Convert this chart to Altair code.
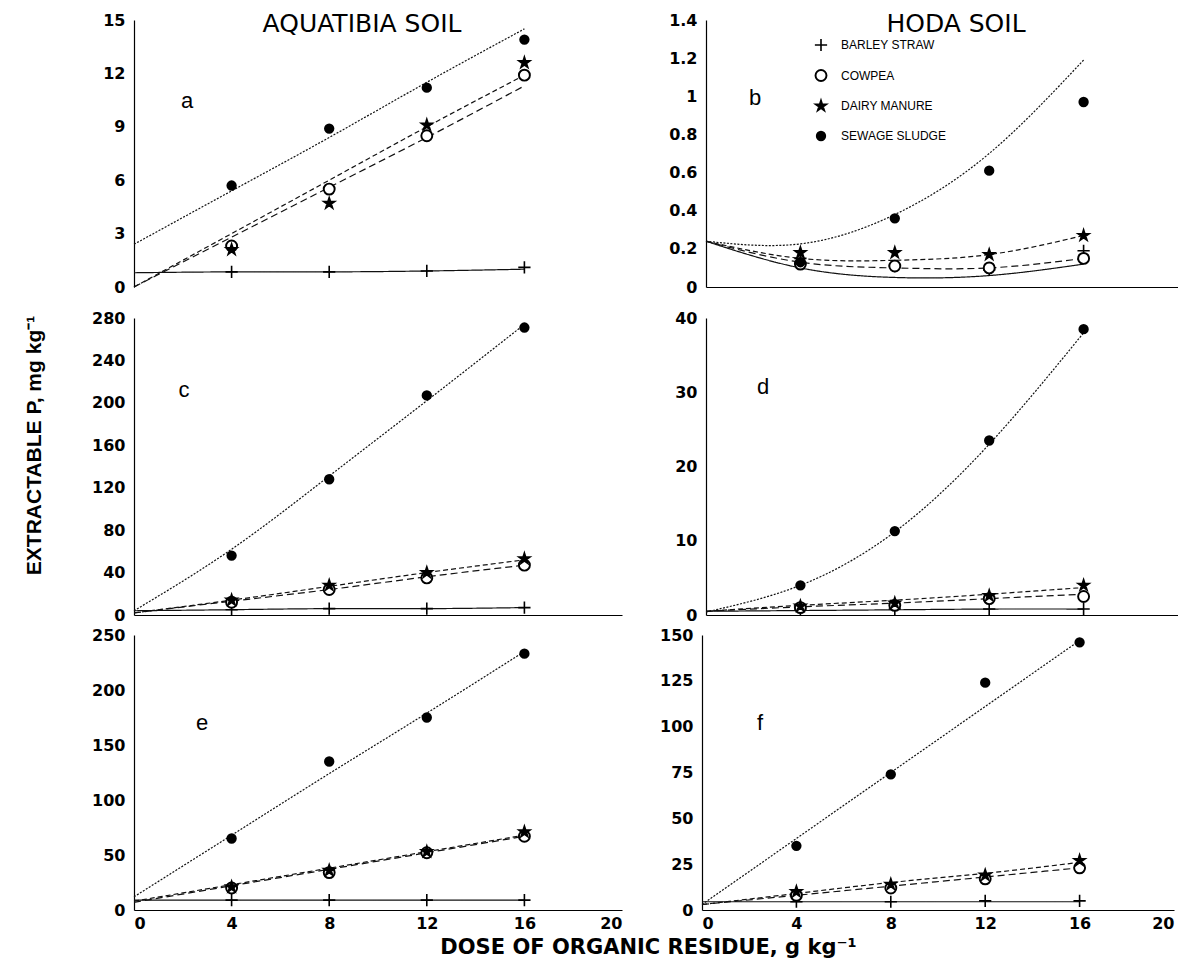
import altair as alt
import pandas as pd

SERIES = ["BARLEY STRAW", "COWPEA", "DAIRY MANURE", "SEWAGE SLUDGE"]
DOSE = [4, 8, 12, 16]
FIT_DOSE = [0, 4, 8, 12, 16]
X_TICKS = [0, 4, 8, 12, 16, 20]

# ---- panel a : Aquatibia soil
A_BARLEY = [0.85, 0.85, 0.9, 1.1]
A_COWPEA = [2.3, 5.5, 8.5, 11.9]
A_DAIRY = [2.1, 4.7, 9.1, 12.6]
A_SEWAGE = [5.7, 8.9, 11.2, 13.9]
A_FIT_BARLEY = [0.8, 0.85, 0.85, 0.9, 1.0]
A_FIT_COWPEA = [0.0, 2.8, 5.6, 8.4, 11.3]
A_FIT_DAIRY = [0.0, 3.0, 6.0, 9.0, 11.9]
A_FIT_SEWAGE = [2.4, 5.4, 8.4, 11.5, 14.5]
A_TICKS = [0, 3, 6, 9, 12, 15]

# ---- panel b : Hoda soil
B_BARLEY = [0.15, 0.11, 0.09, 0.19]
B_COWPEA = [0.12, 0.11, 0.10, 0.15]
B_DAIRY = [0.18, 0.18, 0.17, 0.27]
B_SEWAGE = [0.13, 0.36, 0.61, 0.97]
B_FIT_BARLEY = [0.24, 0.10, 0.05, 0.06, 0.12]
B_FIT_COWPEA = [0.24, 0.13, 0.10, 0.10, 0.15]
B_FIT_DAIRY = [0.24, 0.15, 0.14, 0.17, 0.27]
B_FIT_SEWAGE = [0.24, 0.226, 0.38, 0.70, 1.19]
B_TICKS = [0, 0.2, 0.4, 0.6, 0.8, 1, 1.2, 1.4]

# ---- panel c : Aquatibia soil
C_BARLEY = [5, 6, 6, 7]
C_COWPEA = [12, 24, 35, 47]
C_DAIRY = [14, 28, 40, 53]
C_SEWAGE = [56, 128, 207, 271]
C_FIT_BARLEY = [4, 5, 6, 6, 7]
C_FIT_COWPEA = [2, 13, 24, 36, 47]
C_FIT_DAIRY = [2, 14, 27, 40, 52]
C_FIT_SEWAGE = [4, 62, 131, 202, 274]
C_TICKS = [0, 40, 80, 120, 160, 200, 240, 280]

# ---- panel d : Hoda soil
D_BARLEY = [0.8, 0.8, 0.8, 0.8]
D_COWPEA = [1.0, 1.3, 2.2, 2.5]
D_DAIRY = [1.2, 1.6, 2.6, 4.0]
D_SEWAGE = [4.0, 11.3, 23.5, 38.5]
D_FIT_BARLEY = [0.5, 0.6, 0.7, 0.8, 0.8]
D_FIT_COWPEA = [0.5, 1.1, 1.6, 2.2, 2.8]
D_FIT_DAIRY = [0.5, 1.3, 2.0, 2.8, 3.7]
D_FIT_SEWAGE = [0.4, 4.0, 11.2, 23.0, 38.0]
D_TICKS = [0, 10, 20, 30, 40]

# ---- panel e : Aquatibia soil
E_BARLEY = [9, 9, 9, 9]
E_COWPEA = [20, 34, 52, 67]
E_DAIRY = [21, 36, 53, 71]
E_SEWAGE = [65, 135, 175, 233]
E_FIT_BARLEY = [9, 9, 9, 9, 9]
E_FIT_COWPEA = [7, 22, 37, 52, 67]
E_FIT_DAIRY = [8, 23, 38, 53, 68]
E_FIT_SEWAGE = [12, 68, 124, 179, 235]
E_TICKS = [0, 50, 100, 150, 200, 250]

# ---- panel f : Hoda soil
F_BARLEY = [4.5, 4.5, 5, 5]
F_COWPEA = [8, 12, 17, 23]
F_DAIRY = [10, 14, 19, 27]
F_SEWAGE = [35, 74, 124, 146]
F_FIT_BARLEY = [4.5, 4.5, 4.5, 4.5, 4.5]
F_FIT_COWPEA = [3, 8, 13, 18, 23]
F_FIT_DAIRY = [3, 9, 15, 20, 26]
F_FIT_SEWAGE = [3, 39, 75, 111, 147]
F_TICKS = [0, 25, 50, 75, 100, 125, 150]

Y_TITLE = "EXTRACTABLE P, mg kg\u207b\u00b9"
X_TITLE = "DOSE OF ORGANIC RESIDUE, g kg\u207b\u00b9"
SOIL_TITLES = {"a": "AQUATIBIA SOIL", "b": "HODA SOIL"}

PANELS = {
    "a": dict(points=[A_BARLEY, A_COWPEA, A_DAIRY, A_SEWAGE],
              fits=[A_FIT_BARLEY, A_FIT_COWPEA, A_FIT_DAIRY, A_FIT_SEWAGE], ticks=A_TICKS),
    "b": dict(points=[B_BARLEY, B_COWPEA, B_DAIRY, B_SEWAGE],
              fits=[B_FIT_BARLEY, B_FIT_COWPEA, B_FIT_DAIRY, B_FIT_SEWAGE], ticks=B_TICKS),
    "c": dict(points=[C_BARLEY, C_COWPEA, C_DAIRY, C_SEWAGE],
              fits=[C_FIT_BARLEY, C_FIT_COWPEA, C_FIT_DAIRY, C_FIT_SEWAGE], ticks=C_TICKS),
    "d": dict(points=[D_BARLEY, D_COWPEA, D_DAIRY, D_SEWAGE],
              fits=[D_FIT_BARLEY, D_FIT_COWPEA, D_FIT_DAIRY, D_FIT_SEWAGE], ticks=D_TICKS),
    "e": dict(points=[E_BARLEY, E_COWPEA, E_DAIRY, E_SEWAGE],
              fits=[E_FIT_BARLEY, E_FIT_COWPEA, E_FIT_DAIRY, E_FIT_SEWAGE], ticks=E_TICKS),
    "f": dict(points=[F_BARLEY, F_COWPEA, F_DAIRY, F_SEWAGE],
              fits=[F_FIT_BARLEY, F_FIT_COWPEA, F_FIT_DAIRY, F_FIT_SEWAGE], ticks=F_TICKS),
}

# ---- styling
TICK_FONT = "DejaVu Sans"
SANS = "Liberation Sans"
PLUS = "M-1,0L1,0M0,-1L0,1"
STAR = ("M0,-1L0.2245,-0.309L0.951,-0.309L0.363,0.118L0.588,0.809L0,0.382"
        "L-0.588,0.809L-0.363,0.118L-0.951,-0.309L-0.2245,-0.309Z")
SHAPES = [PLUS, "circle", STAR, "circle"]
FILLS = ["black", "white", "black", "black"]
STROKE_COLORS = ["black", "black", "black", "black"]
SIZES = [150, 60, 110, 135]
STROKES = [1.6, 2.6, 0.8, 0.8]
DASHES = [[1, 0], [7, 4], [5, 3], [2, 1.5]]
COL_W = [488, 472]
ROW_H = [267, 297, 275]
LETTER_POS = {"a": (53, 81), "b": (49, 78), "c": (50, 72), "d": (57, 69), "e": (68, 88), "f": (58, 88)}
TITLE_POS = {"a": (228, 12), "b": (250, 12)}


def long_df(series_vals, xs, name):
    rows = []
    for s, vals in zip(SERIES, series_vals):
        for x, v in zip(xs, vals):
            rows.append({name: s, "dose": x, "value": v})
    return pd.DataFrame(rows)


def panel(key, col, row):
    p = PANELS[key]
    bottom = row == 2
    xaxis = alt.Axis(values=X_TICKS, labels=bottom, ticks=False, grid=False, title=None,
                     domain=(key != "a"), domainColor="black", domainWidth=1.2,
                     labelFont=TICK_FONT, labelFontSize=16, labelFontWeight="bold",
                     labelColor="black", labelPadding=5)
    ykw = dict(values=p["ticks"], labelExpr="'' + datum.value", ticks=False, grid=False,
               domainColor="black", domainWidth=1.2, labelFont=TICK_FONT,
               labelFontSize=16, labelFontWeight="bold", labelColor="black",
               labelPadding=9, minExtent=44, maxExtent=44)
    if col == 0:
        ykw.update(title=Y_TITLE, titleFont=SANS, titleFontSize=21, titleFontWeight="bold",
                   titleColor="black", titlePadding=46, titleOpacity=1 if key == "c" else 0)
        if key == "c":
            ykw.update(titleY=127)
    else:
        ykw.update(title=None)
    yaxis = alt.Axis(**ykw)
    xenc = alt.X("dose:Q", scale=alt.Scale(domain=[0, 20], nice=False), axis=xaxis)
    yenc = alt.Y("value:Q", scale=alt.Scale(domain=[0, p["ticks"][-1]], nice=False), axis=yaxis)

    lines = alt.Chart(long_df(p["fits"], FIT_DOSE, "fit")).mark_line(
        color="#111111", strokeWidth=1.2, interpolate="natural"
    ).encode(
        x=xenc, y=yenc,
        strokeDash=alt.StrokeDash("fit:N", scale=alt.Scale(range=DASHES), legend=None),
    )

    if key == "b":
        leg = alt.Legend(orient="none", legendX=108, legendY=18, title=None,
                         labelFont=SANS, labelFontSize=12, labelColor="black",
                         rowPadding=11, labelOffset=13, padding=0)
    else:
        leg = None
    pts = alt.Chart(long_df(p["points"], DOSE, "series")).mark_point(
        opacity=1, fillOpacity=1
    ).encode(
        x=xenc, y=yenc,
        shape=alt.Shape("series:N", scale=alt.Scale(domain=SERIES, range=SHAPES), legend=leg),
        fill=alt.Fill("series:N", scale=alt.Scale(domain=SERIES, range=FILLS), legend=leg),
        stroke=alt.Stroke("series:N", scale=alt.Scale(domain=SERIES, range=STROKE_COLORS), legend=leg),
        size=alt.Size("series:N", scale=alt.Scale(domain=SERIES, range=SIZES), legend=leg),
        strokeWidth=alt.StrokeWidth("series:N", scale=alt.Scale(domain=SERIES, range=STROKES), legend=leg),
    )

    lx, ly = LETTER_POS[key]
    letter = alt.Chart(pd.DataFrame({"t": [key]})).mark_text(
        font=SANS, fontSize=22, color="black", baseline="middle", align="center"
    ).encode(text="t:N", x=alt.value(lx), y=alt.value(ly))

    layers = [lines, pts, letter]
    if key in SOIL_TITLES:
        tx, ty = TITLE_POS[key]
        layers.append(alt.Chart(pd.DataFrame({"t": [SOIL_TITLES[key]]})).mark_text(
            font="DejaVu Sans", fontSize=25, color="black", baseline="alphabetic", align="center"
        ).encode(text="t:N", x=alt.value(tx), y=alt.value(ty)))
    return alt.layer(*layers).properties(width=COL_W[col], height=ROW_H[row])


RES = dict(shape="independent", fill="independent", stroke="independent", size="independent",
           strokeWidth="independent", strokeDash="independent")

row1 = alt.hconcat(panel("a", 0, 0), panel("b", 1, 0), spacing=40).resolve_scale(**RES)
row2 = alt.hconcat(panel("c", 0, 1), panel("d", 1, 1), spacing=40).resolve_scale(**RES)
row3 = alt.hconcat(panel("e", 0, 2), panel("f", 1, 2), spacing=36).resolve_scale(**RES)
lower = alt.vconcat(row2, row3, spacing=4).resolve_scale(**RES)

chart = alt.vconcat(row1, lower, spacing=15).resolve_scale(**RES).properties(
    padding={"left": 14, "top": 4, "right": 0, "bottom": 0},
    title=alt.TitleParams(X_TITLE, orient="bottom", anchor="middle", font="DejaVu Sans",
                          fontSize=21, fontWeight="bold", color="black", offset=6, dx=48),
).configure_view(stroke=None)

chart.save("out.html", embed_options={"renderer": "svg", "actions": False})
